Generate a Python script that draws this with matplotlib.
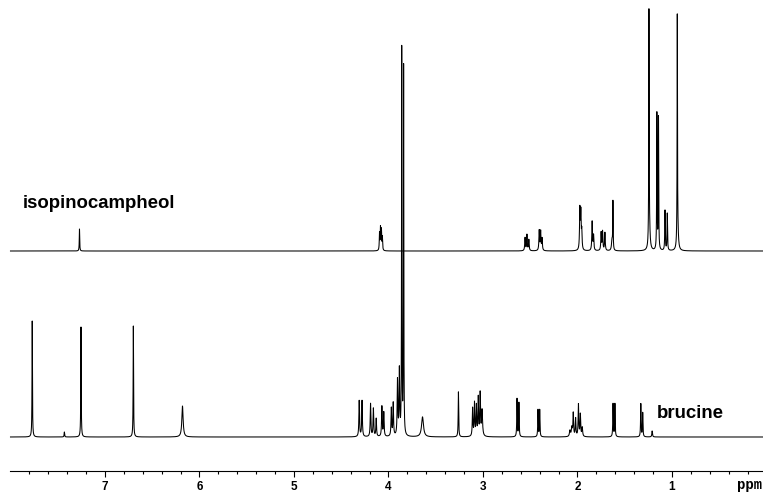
import numpy as np
import matplotlib
matplotlib.use("Agg")
import matplotlib.pyplot as plt
from matplotlib.ticker import FixedLocator

# ---- data: peak tables (ppm, height above baseline, half-width in ppm) ----
iso_ppm = [7.27, 4.095, 4.085, 4.075, 4.065,
           2.555, 2.535, 2.515, 2.405, 2.390, 2.375,
           1.975, 1.965, 1.955, 1.845, 1.830,
           1.750, 1.735, 1.710, 1.635, 1.625,
           1.244, 1.240, 1.160, 1.143, 1.074, 1.050, 0.944, 0.940]
iso_h = [22, 17, 22, 20, 13,
         13, 16, 11, 20, 19, 12,
         40, 36, 18, 29, 15,
         18, 19, 18, 10, 48,
         222, 25, 136, 132, 40, 37, 221, 20]
iso_w = [0.0025, 0.003, 0.003, 0.003, 0.003,
         0.004, 0.004, 0.004, 0.004, 0.004, 0.004,
         0.004, 0.004, 0.004, 0.004, 0.004,
         0.004, 0.004, 0.004, 0.006, 0.0025,
         0.0022, 0.008, 0.0025, 0.0025, 0.003, 0.003, 0.0022, 0.008]

bru_ppm = [7.770, 7.430, 7.254, 6.700, 6.180,
           4.310, 4.280, 4.190, 4.160, 4.130, 4.070, 4.050,
           3.970, 3.950, 3.905, 3.885, 3.860, 3.840,
           3.640, 3.260,
           3.110, 3.090, 3.070, 3.050, 3.030, 3.010,
           2.640, 2.620, 2.418, 2.400,
           2.080, 2.060, 2.045, 2.020, 1.990, 1.970, 1.950,
           1.624, 1.604, 1.330, 1.310, 1.210]
bru_h = [116, 5, 110, 111, 31,
         36, 36, 33, 28, 18, 30, 24,
         28, 33, 55, 65, 385, 368,
         20, 45,
         28, 33, 30, 38, 42, 26,
         38, 34, 27, 27,
         6, 9, 23, 18, 32, 22, 9,
         33, 33, 33, 24, 6]
bru_w = [0.0025, 0.003, 0.0025, 0.0025, 0.008,
         0.004, 0.004, 0.004, 0.004, 0.004, 0.004, 0.004,
         0.004, 0.004, 0.004, 0.004, 0.0022, 0.0022,
         0.012, 0.003,
         0.004, 0.004, 0.004, 0.004, 0.004, 0.006,
         0.003, 0.003, 0.003, 0.003,
         0.006, 0.006, 0.004, 0.004, 0.004, 0.004, 0.005,
         0.003, 0.003, 0.003, 0.003, 0.004]

iso_baseline = 220
bru_baseline = 34

tick_major = [1, 2, 3, 4, 5, 6, 7]
tick_labels = ["1", "2", "3", "4", "5", "6", "7"]


def spectrum(x, ppm, h, w):
    y = np.zeros_like(x)
    for p, a, g in zip(ppm, h, w):
        y += a * g * g / ((x - p) ** 2 + g * g)
    return y


x = np.linspace(8.0, -0.3, 16601)
y_iso = iso_baseline + spectrum(x, iso_ppm, iso_h, iso_w)
y_bru = bru_baseline + spectrum(x, bru_ppm, bru_h, bru_w)

fig = plt.figure(figsize=(7.63, 4.92), dpi=100)
ax = fig.add_axes([0, 21 / 492, 1, 471 / 492])
ax.plot(x, y_iso, color="black", lw=0.75)
ax.plot(x, y_bru, color="black", lw=0.75)
ax.set_xlim(8.111, 0.037)
ax.set_ylim(0, 471)

for s in ["top", "left", "right"]:
    ax.spines[s].set_visible(False)
ax.spines["bottom"].set_bounds(-0.5, 8.0)
ax.spines["bottom"].set_linewidth(0.8)
ax.set_yticks([])
ax.xaxis.set_major_locator(FixedLocator(tick_major))
minor = [round(0.2 * i, 1) for i in range(1, 41) if (i % 5) != 0]
ax.xaxis.set_minor_locator(FixedLocator(minor))
ax.set_xticklabels(tick_labels, fontweight="bold", fontsize=8.5,
                   family=["Liberation Sans", "DejaVu Sans"])
ax.tick_params(axis="x", which="major", direction="out", length=4.5, width=0.8, pad=2.5)
ax.tick_params(axis="x", which="minor", direction="out", length=2.3, width=0.8)

fig.text(737 / 763, 1 - 485 / 492, "ppm", family="Liberation Mono",
         fontweight="bold", fontsize=10, ha="left", va="center")
fig.text(23 / 763, 1 - 203 / 492, "isopinocampheol", family="Liberation Sans",
         fontweight="bold", fontsize=13.4, ha="left", va="center")
fig.text(657 / 763, 1 - 414 / 492, "brucine", family="Liberation Sans",
         fontweight="bold", fontsize=13.4, ha="left", va="center")

fig.savefig("out.png", dpi=100)
